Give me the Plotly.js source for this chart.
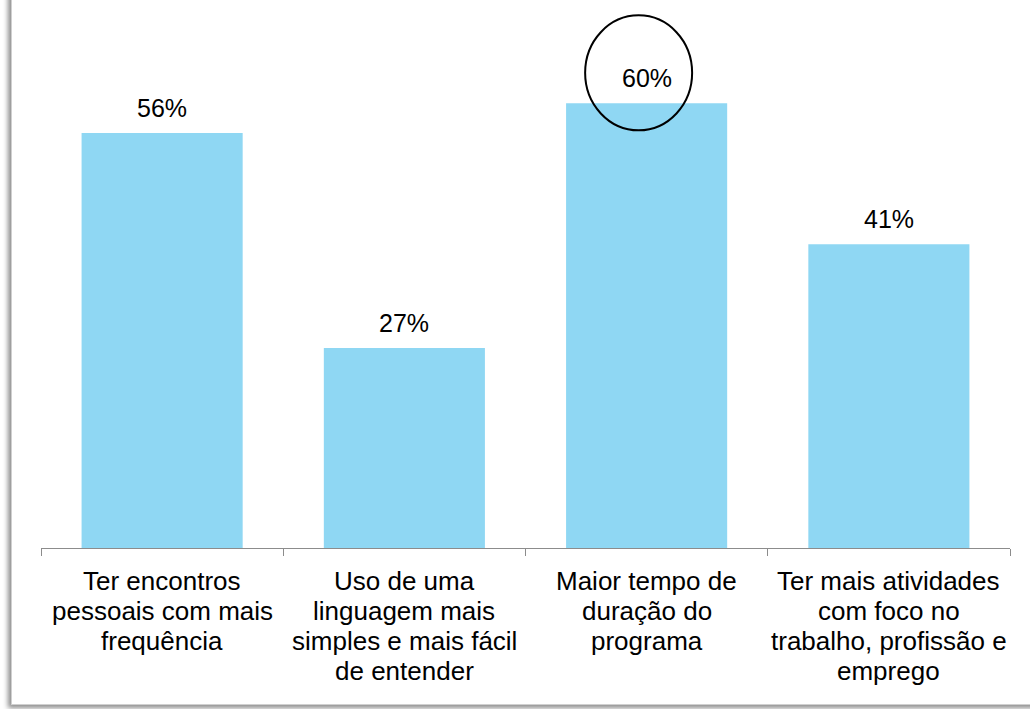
<!DOCTYPE html>
<html>
<head>
<meta charset="utf-8">
<script src="https://cdn.plot.ly/plotly-3.0.1.min.js"></script>
<style>
  html, body { margin: 0; padding: 0; background: #ffffff; overflow: hidden; }
  #frame {
    position: absolute; left: 11px; top: -20px; width: 1040px; height: 723px;
    border: 1px solid #d0d0d0; background: #ffffff;
    box-shadow: -3px 3px 5px rgba(0,0,0,0.45);
  }
  #chart { position: absolute; left: 0; top: 0; width: 1030px; height: 709px; }
</style>
</head>
<body>
<div id="frame"></div>
<div id="chart"></div>
<script>
const categories = [
  "Ter encontros<br>pessoais com mais<br>frequência",
  "Uso de uma<br>linguagem mais<br>simples e mais fácil<br>de entender",
  "Maior tempo de<br>duração do<br>programa",
  "Ter mais atividades<br>com foco no<br>trabalho, profissão e<br>emprego"
];
const values = [56, 27, 60, 41];
const valueLabels = ["56%", "27%", "60%", "41%"];
const highlightIndex = 2;

const font = "Arial, 'Liberation Sans', sans-serif";

const trace = {
  type: "bar",
  x: categories,
  y: values,
  marker: { color: "#8fd7f3" },
  hoverinfo: "skip"
};

// value labels above bars
const annotations = categories.map((c, i) => ({
  x: c, y: values[i], xref: "x", yref: "y",
  text: valueLabels[i], showarrow: false,
  yanchor: "bottom", yshift: 9,
  font: { family: font, size: 25, color: "#000000" }
}));

// category labels, one annotation per line for tighter line spacing
categories.forEach((c) => {
  c.split("<br>").forEach((line, j) => {
    annotations.push({
      x: c, y: 0, xref: "x", yref: "y",
      text: line, showarrow: false,
      yanchor: "middle", yshift: -(33 + 30 * j),
      font: { family: font, size: 26, color: "#000000" }
    });
  });
});

const layout = {
  width: 1030, height: 709,
  margin: { l: 41, r: 20, t: 10, b: 161 },
  paper_bgcolor: "rgba(0,0,0,0)",
  plot_bgcolor: "rgba(0,0,0,0)",
  bargap: 0.335,
  showlegend: false,
  xaxis: {
    type: "category",
    range: [-0.5, 3.5],
    showline: true, linecolor: "#8c8c8c", linewidth: 1,
    ticks: "outside", ticklen: 7, tickcolor: "#8c8c8c", tickson: "boundaries",
    showticklabels: false,
    showgrid: false, zeroline: false
  },
  yaxis: {
    range: [0, 72.6], visible: false, showgrid: false, zeroline: false
  },
  annotations: annotations,
  shapes: [{
    type: "circle",
    xref: "x", yref: "y",
    xsizemode: "pixel", ysizemode: "pixel",
    xanchor: categories[highlightIndex], yanchor: values[highlightIndex],
    x0: -61.5, x1: 45.5, y0: -27, y1: 88,
    line: { color: "#000000", width: 2 },
    fillcolor: "rgba(0,0,0,0)"
  }]
};

Plotly.newPlot("chart", [trace], layout, { staticPlot: true, displayModeBar: false });
</script>
</body>
</html>
